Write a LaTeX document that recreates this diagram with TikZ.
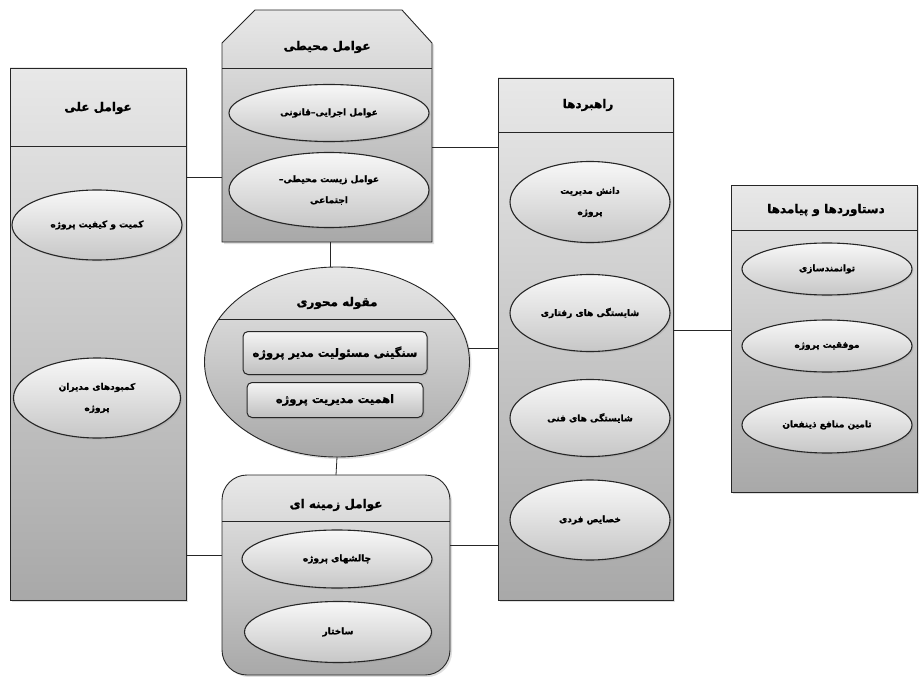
\documentclass[tikz,border=0pt]{standalone}
\usepackage{fontspec}
\usetikzlibrary{shapes.geometric,shadows,calc}
\TeXXeTstate=1
\newfontfamily\fafont[Script=Arabic,BoldFeatures={FakeBold=1.2}]{DejaVu Sans}
\newcommand{\fatxt}[1]{\beginR #1\endR}
\begin{document}
\begin{tikzpicture}[x=1pt,y=-1pt,
  panel/.style={draw=black!85,line width=0.9pt,top color=black!9,bottom color=black!34,
    drop shadow={opacity=0.25,shadow xshift=2pt,shadow yshift=-2pt},inner sep=0pt,outer sep=0pt},
  item/.style={ellipse,draw=black!85,line width=1.1pt,top color=black!3,bottom color=black!22,
    drop shadow={opacity=0.2,shadow xshift=1.5pt,shadow yshift=-1.5pt},inner sep=0pt,outer sep=0pt,
    align=center,font=\fafont\bfseries\fontsize{9}{21}\selectfont},
  tagbox/.style={rectangle,rounded corners=5pt,draw=black!85,line width=1pt,top color=black!4,
    bottom color=black!25,drop shadow={opacity=0.2,shadow xshift=1.5pt,shadow yshift=-1.5pt},
    inner sep=0pt,outer sep=0pt,font=\fafont\bfseries\fontsize{11.5}{13}\selectfont},
  head/.style={font=\fafont\bfseries\fontsize{12}{14}\selectfont},
  link/.style={draw=black!85,line width=0.8pt}]
\useasboundingbox (0,0) rectangle (919,677);

\node[panel,minimum width=176,minimum height=532] (ellat) at (98,334) {};
\draw[link] (ellat.west |- 0,146) -- (ellat.east |- 0,146);
\node[head] (ellat-t) at (98,108) {\fatxt{عوامل علی}};
\node[item,minimum width=170,minimum height=70] (ellat-1) at (97,225) {\fatxt{کمیت و کیفیت پروژه}};
\node[item,minimum width=167,minimum height=80] (ellat-2) at (97,398) {\fatxt{کمبودهای مدیران}\\\fatxt{پروژه}};

\node[minimum width=210,minimum height=232,inner sep=0pt,outer sep=0pt] (mohiti) at (327,126) {};
\path[panel] (mohiti.south west) -- ($(mohiti.north west)+(0,33)$) -- ($(mohiti.north west)+(33,0)$)
  -- ($(mohiti.north east)+(-30,0)$) -- ($(mohiti.north east)+(0,33)$) -- (mohiti.south east) -- cycle;
\draw[link] (mohiti.west |- 0,68) -- (mohiti.east |- 0,68);
\node[head] (mohiti-t) at (327,47) {\fatxt{عوامل محیطی}};
\node[item,minimum width=200,minimum height=57] (mohiti-1) at (329,113) {\fatxt{عوامل اجرایی–قانونی}};
\node[item,minimum width=200,minimum height=75] (mohiti-2) at (329,190) {\fatxt{عوامل زیست محیطی–}\\\fatxt{اجتماعی}};

\node[panel,ellipse,minimum width=265,minimum height=190] (core) at (337,362) {};
\draw[link] ($(core.center)+(-119,-43)$) -- ($(core.center)+(119,-43)$);
\node[head] (core-t) at (337,303) {\fatxt{مقوله محوری}};
\node[tagbox,minimum width=184,minimum height=43] (core-1) at (335,353) {\fatxt{سنگینی مسئولیت مدیر پروژه}};
\node[tagbox,minimum width=176,minimum height=35] (core-2) at (335,400) {\fatxt{اهمیت مدیریت پروژه}};

\node[panel,rounded corners=25pt,minimum width=228,minimum height=200] (zamineh) at (336,575) {};
\draw[link] (zamineh.west |- 0,521) -- (zamineh.east |- 0,521);
\node[head] (zamineh-t) at (336,505) {\fatxt{عوامل زمینه ای}};
\node[item,minimum width=190,minimum height=58] (zamineh-1) at (337,559) {\fatxt{چالشهای پروژه}};
\node[item,minimum width=187,minimum height=61] (zamineh-2) at (338,632) {\fatxt{ساختار}};

\node[panel,minimum width=175,minimum height=522] (rahbord) at (585.5,339) {};
\draw[link] (rahbord.west |- 0,132) -- (rahbord.east |- 0,132);
\node[head] (rahbord-t) at (588,105) {\fatxt{راهبردها}};
\node[item,minimum width=160,minimum height=81] (rahbord-1) at (590,202) {\fatxt{دانش مدیریت}\\\fatxt{پروژه}};
\node[item,minimum width=160,minimum height=77] (rahbord-2) at (590,313) {\fatxt{شایستگی های رفتاری}};
\node[item,minimum width=160,minimum height=77] (rahbord-3) at (590,418) {\fatxt{شایستگی های فنی}};
\node[item,minimum width=160,minimum height=80] (rahbord-4) at (590,520) {\fatxt{خصایص فردی}};

\node[panel,minimum width=186,minimum height=307] (dastavard) at (824,338.5) {};
\draw[link] (dastavard.west |- 0,230) -- (dastavard.east |- 0,230);
\node[head] (dastavard-t) at (826,210) {\fatxt{دستاوردها و پیامدها}};
\node[item,minimum width=170,minimum height=52] (dastavard-1) at (827,269) {\fatxt{توانمندسازی}};
\node[item,minimum width=170,minimum height=52] (dastavard-2) at (827,346) {\fatxt{موفقیت پروژه}};
\node[item,minimum width=170,minimum height=56] (dastavard-3) at (827,425) {\fatxt{تامین منافع ذینفعان}};

\draw[link] (ellat.east |- 0,177) -- (mohiti.west |- 0,177);
\draw[link] (ellat.east |- 0,555) -- (zamineh.west |- 0,555);
\draw[link] (mohiti.south -| 330,0) -- (core.north -| 330,0);
\draw[link] (core.south) -- (zamineh.north);
\draw[link] (mohiti.east |- 0,147) -- (rahbord.west |- 0,147);
\draw[link] (core.6) -- (core.6 -| rahbord.west);
\draw[link] (zamineh.east |- 0,545) -- (rahbord.west |- 0,545);
\draw[link] (rahbord.east |- 0,330) -- (dastavard.west |- 0,330);
\end{tikzpicture}
\end{document}
